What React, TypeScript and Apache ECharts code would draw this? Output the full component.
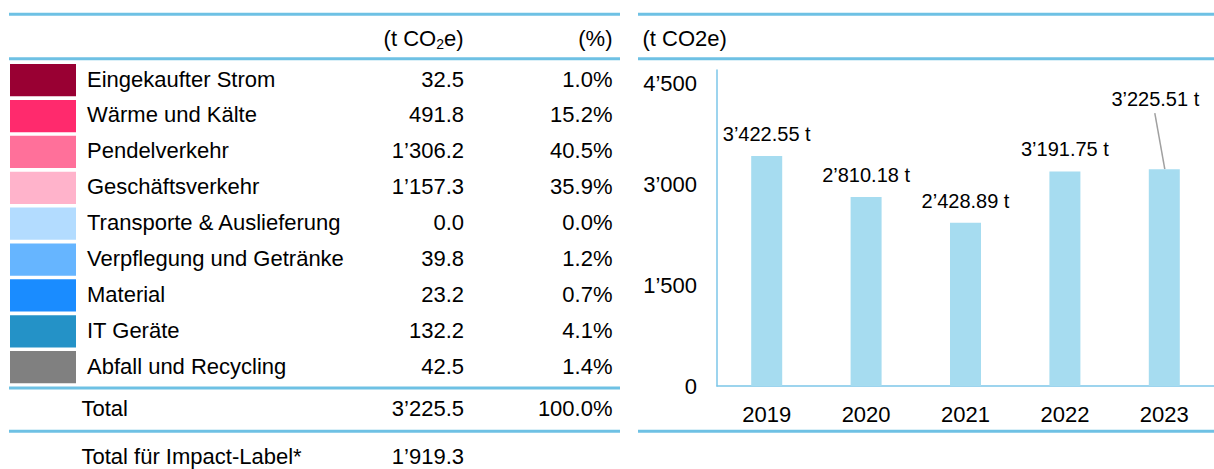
import React, { useEffect, useRef } from "react";
import * as echarts from "echarts";

// ---- data ----
const categories = [
  "Eingekaufter Strom",
  "Wärme und Kälte",
  "Pendelverkehr",
  "Geschäftsverkehr",
  "Transporte & Auslieferung",
  "Verpflegung und Getränke",
  "Material",
  "IT Geräte",
  "Abfall und Recycling",
];
const emissions = [32.5, 491.8, 1306.2, 1157.3, 0.0, 39.8, 23.2, 132.2, 42.5];
const shares = [1.0, 15.2, 40.5, 35.9, 0.0, 1.2, 0.7, 4.1, 1.4];
const totalEmissions = 3225.5;
const totalShare = 100.0;
const impactLabelTotal = 1919.3;

const years = ["2019", "2020", "2021", "2022", "2023"];
const yearlyTotals = [3422.55, 2810.18, 2428.89, 3191.75, 3225.51];
const yTicks = [0, 1500, 3000, 4500];

// ---- styles ----
const palette = [
  "#990033",
  "#FF2A6D",
  "#FF709A",
  "#FFB3CB",
  "#B3DCFF",
  "#66B5FF",
  "#1A8CFF",
  "#2492C7",
  "#808080",
];
const FONT = "'Liberation Sans', Arial, Helvetica, sans-serif";
const RULE = "#6EC1E4";
const AXIS = "#7CC6E8";
const BAR = "#A6DCF0";

function fmt(v: number, d: number): string {
  const s = v.toFixed(d);
  const [i, f] = s.split(".");
  const ii = i.replace(/\B(?=(\d{3})+(?!\d))/g, "\u2019");
  return f !== undefined ? ii + "." + f : ii;
}

function txt(text: string, x: number, y: number, align: string, size = 22): any {
  return {
    type: "text",
    x,
    y,
    silent: true,
    style: {
      text,
      fill: "#000",
      fontSize: size,
      fontFamily: FONT,
      align,
      verticalAlign: "middle",
    },
  };
}

function rule(x1: number, x2: number, y: number): any {
  return {
    type: "line",
    silent: true,
    shape: { x1, y1: y, x2, y2: y },
    style: { stroke: RULE, lineWidth: 3 },
  };
}

export default function App() {
  const ref = useRef<HTMLDivElement>(null);

  useEffect(() => {
    if (!ref.current) return;
    const chart = echarts.init(ref.current, null, { renderer: "svg" });

    const graphic: any[] = [];
    // rules
    [14.2, 58.7, 388, 431.3].forEach((y) => graphic.push(rule(9, 620, y)));
    [14.2, 58.7, 431.3].forEach((y) => graphic.push(rule(638, 1214, y)));

    // headers
    graphic.push({
      type: "text",
      x: 463.5,
      y: 38.5,
      silent: true,
      style: {
        text: "{a|(t CO}{s|2}{a|e)}",
        align: "right",
        verticalAlign: "middle",
        fill: "#000",
        fontFamily: FONT,
        fontSize: 22,
        rich: {
          a: { fontSize: 22, fontFamily: FONT, fill: "#000" },
          s: { fontSize: 14, fontFamily: FONT, fill: "#000", padding: [10, 0, 0, 0] },
        },
      },
    });
    graphic.push(txt("(%)", 612.5, 38.5, "right"));
    graphic.push(txt("(t CO2e)", 642.5, 38.5, "left"));

    // rows
    const pitch = 35.875;
    categories.forEach((c, i) => {
      graphic.push({
        type: "rect",
        silent: true,
        shape: { x: 10, y: 64 + i * pitch, width: 66, height: 32.3 },
        style: { fill: palette[i] },
      });
      const cy = 79 + i * pitch;
      graphic.push(txt(c, 87, cy, "left"));
      graphic.push(txt(fmt(emissions[i], 1), 464, cy, "right"));
      graphic.push(txt(fmt(shares[i], 1) + "%", 612.5, cy, "right"));
    });

    graphic.push(txt("Total", 81.5, 408, "left"));
    graphic.push(txt(fmt(totalEmissions, 1), 464, 408, "right"));
    graphic.push(txt(fmt(totalShare, 1) + "%", 612.5, 408, "right"));
    graphic.push(txt("Total für Impact-Label*", 81.5, 456, "left"));
    graphic.push(txt(fmt(impactLabelTotal, 1), 464, 456, "right"));

    const lastIdx = years.length - 1;
    const option: any = {
      animation: false,
      textStyle: { fontFamily: FONT },
      grid: { left: 717, top: 70, width: 500, height: 316, containLabel: false },
      xAxis: {
        type: "category",
        data: years,
        axisLine: { show: true, lineStyle: { color: AXIS, width: 1.5 } },
        axisTick: { show: false },
        axisLabel: { color: "#000", fontSize: 22, fontFamily: FONT, margin: 17 },
      },
      yAxis: {
        type: "value",
        min: 0,
        max: 4700,
        interval: 1500,
        axisLine: { show: true, lineStyle: { color: AXIS, width: 1.5 } },
        axisTick: { show: false },
        splitLine: { show: false },
        axisLabel: {
          color: "#000",
          fontSize: 22,
          fontFamily: FONT,
          margin: 20,
          formatter: (v: number) => (yTicks.indexOf(v) >= 0 ? fmt(v, 0) : ""),
        },
      },
      series: [
        {
          type: "bar",
          barWidth: 31,
          itemStyle: { color: BAR },
          label: {
            show: true,
            position: "top",
            distance: 12,
            color: "#000",
            fontSize: 20,
            fontFamily: FONT,
            formatter: (p: any) => fmt(p.value, 2) + " t",
          },
          data: yearlyTotals.map((v, i) =>
            i === lastIdx ? { value: v, label: { offset: [-9, -48] } } : v
          ),
        },
      ],
      graphic,
    };
    chart.setOption(option);

    // leader line for the moved 2023 label, derived from the axis scales
    const p = chart.convertToPixel({ xAxisIndex: 0, yAxisIndex: 0 }, [
      years[lastIdx],
      yearlyTotals[lastIdx],
    ]) as number[];
    if (p) {
      chart.setOption({
        graphic: [
          {
            id: "leader",
            type: "line",
            silent: true,
            shape: { x1: p[0] + 0.5, y1: p[1], x2: p[0] - 9.5, y2: p[1] - 56 },
            style: { stroke: "#A0A0A0", lineWidth: 1.5 },
          },
        ],
      });
    }

    return () => chart.dispose();
  }, []);

  return (
    <div
      ref={ref}
      style={{ position: "absolute", left: 0, top: 0, width: 1214, height: 469, background: "#fff" }}
    />
  );
}
